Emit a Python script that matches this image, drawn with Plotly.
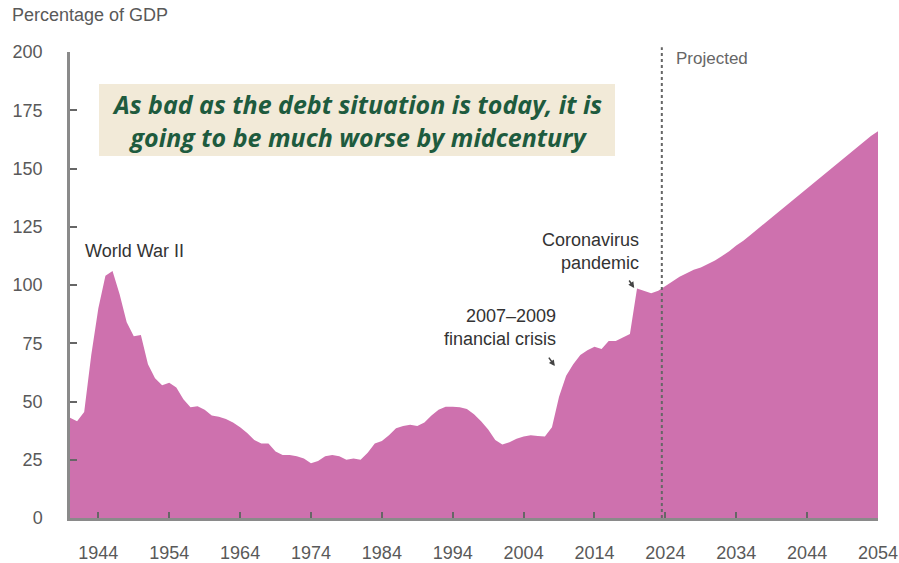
import plotly.graph_objects as go

# Federal debt held by the public, percentage of GDP
years = list(range(1940, 2055))
debt_pct_gdp = [
    43.0, 41.5, 45.5, 70.0, 90.0, 104.0, 106.0, 96.0, 84.0, 78.0,   # 1940-1949
    78.5, 66.0, 60.0, 57.0, 58.0, 56.0, 51.0, 47.5, 48.0, 46.5,     # 1950-1959
    44.0, 43.5, 42.5, 41.0, 39.0, 36.5, 33.5, 32.0, 32.0, 28.5,     # 1960-1969
    27.0, 27.0, 26.5, 25.5, 23.5, 24.5, 26.5, 27.0, 26.5, 25.0,     # 1970-1979
    25.5, 25.0, 28.0, 32.0, 33.0, 35.5, 38.5, 39.5, 40.0, 39.5,     # 1980-1989
    41.0, 44.0, 46.5, 47.8, 47.7, 47.5, 46.8, 44.5, 41.5, 38.0,     # 1990-1999
    33.5, 31.5, 32.5, 34.0, 35.0, 35.5, 35.2, 35.0, 39.0, 52.0,     # 2000-2009
    61.0, 66.0, 70.0, 72.0, 73.5, 72.5, 76.0, 76.0, 77.5, 79.0,     # 2010-2019
    98.5, 97.5, 96.5, 97.5, 99.5, 101.5, 103.5, 105.0, 106.5, 107.5,  # 2020-2029
    109.0, 110.5, 112.5, 114.5, 117.0, 119.0, 121.5, 124.0, 126.5, 129.0,  # 2030-2039
    131.5, 134.0, 136.5, 139.0, 141.5, 144.0, 146.5, 149.0, 151.5, 154.0,  # 2040-2049
    156.5, 159.0, 161.5, 164.0, 166.0,                                     # 2050-2054
]

x_ticks = list(range(1944, 2055, 10))
y_ticks = list(range(0, 201, 25))
projection_start = 2023.5

FILL = "#CE71AE"
AXIS = "#8a8a8a"
TICK_TXT = "#595959"
NOTE_TXT = "#333333"
FONT = "Liberation Sans, Arial, sans-serif"

fig = go.Figure()
fig.add_trace(go.Scatter(
    x=years, y=debt_pct_gdp,
    mode="lines", line=dict(width=0, color=FILL),
    fill="tozeroy", fillcolor=FILL,
    hoverinfo="x+y", showlegend=False,
))

fig.update_layout(
    width=899, height=563,
    margin=dict(l=70, r=21, t=52, b=45),
    paper_bgcolor="white", plot_bgcolor="white",
    font=dict(family=FONT, size=18, color=TICK_TXT),
    showlegend=False,
)

fig.update_xaxes(
    range=[1940, 2054], tickvals=x_ticks,
    ticks="inside", ticklen=6, tickwidth=2, tickcolor="#666",
    showline=True, linecolor=AXIS, linewidth=2.5,
    showgrid=False, zeroline=False, automargin=False,
    tickfont=dict(size=18, color=TICK_TXT),
    ticklabelstandoff=17,
)
fig.update_yaxes(
    range=[0, 200], tickvals=y_ticks,
    ticks="inside", ticklen=7, tickwidth=2, tickcolor="#666",
    showline=True, linecolor=AXIS, linewidth=2.5,
    showgrid=False, zeroline=False, automargin=False,
    tickfont=dict(size=18, color=TICK_TXT),
    ticklabelstandoff=21,
)

# Start of the projection period
fig.add_shape(
    type="line", xref="x", yref="paper",
    x0=projection_start, x1=projection_start, y0=0, y1=1.01,
    line=dict(color="#666", width=2, dash="dot"),
)

# Highlight box with the key message
fig.add_shape(
    type="rect", xref="paper", yref="paper",
    x0=0.0359, x1=0.6745, y0=0.7768, y1=0.9313,
    fillcolor="#F2EAD8", line=dict(width=0), layer="below",
)
fig.add_annotation(
    xref="paper", yref="paper", x=0.355, y=0.854,
    text="<b><i>As bad as the debt situation is today, it is<br>going to be much worse by midcentury</i></b>",
    showarrow=False, xanchor="center", yanchor="middle", align="center",
    font=dict(family="Open Sans, sans-serif", size=25, color="#1E5B3E"),
)

# Axis title
fig.add_annotation(
    xref="paper", yref="paper", x=-0.0743, y=1.0794,
    text="Percentage of GDP", showarrow=False,
    xanchor="left", yanchor="middle",
    font=dict(size=18, color=TICK_TXT),
)

fig.add_annotation(
    x=2025.2, y=197, text="Projected", showarrow=False,
    xanchor="left", yanchor="middle",
    font=dict(size=17, color="#666"),
)

fig.add_annotation(
    x=1941.8, y=114.6, text="World War II", showarrow=False,
    xanchor="left", yanchor="middle",
    font=dict(size=18, color=NOTE_TXT),
)

fig.add_annotation(
    x=2020.6, y=114.4, text="Coronavirus<br>pandemic", showarrow=False,
    xanchor="right", yanchor="middle", align="right",
    font=dict(size=18, color=NOTE_TXT),
)
fig.add_annotation(
    x=2019.6, y=98.7, text="", showarrow=True,
    ax=-6, ay=-9, arrowhead=2, arrowsize=0.8, arrowwidth=1.5, arrowcolor="#444",
)

fig.add_annotation(
    x=2008.9, y=81.6, text="2007\u20132009<br>financial crisis", showarrow=False,
    xanchor="right", yanchor="middle", align="right",
    font=dict(size=18, color=NOTE_TXT),
)
fig.add_annotation(
    x=2008.4, y=65.2, text="", showarrow=True,
    ax=-7, ay=-10, arrowhead=2, arrowsize=0.8, arrowwidth=1.5, arrowcolor="#444",
)

fig.write_html("out.html")
